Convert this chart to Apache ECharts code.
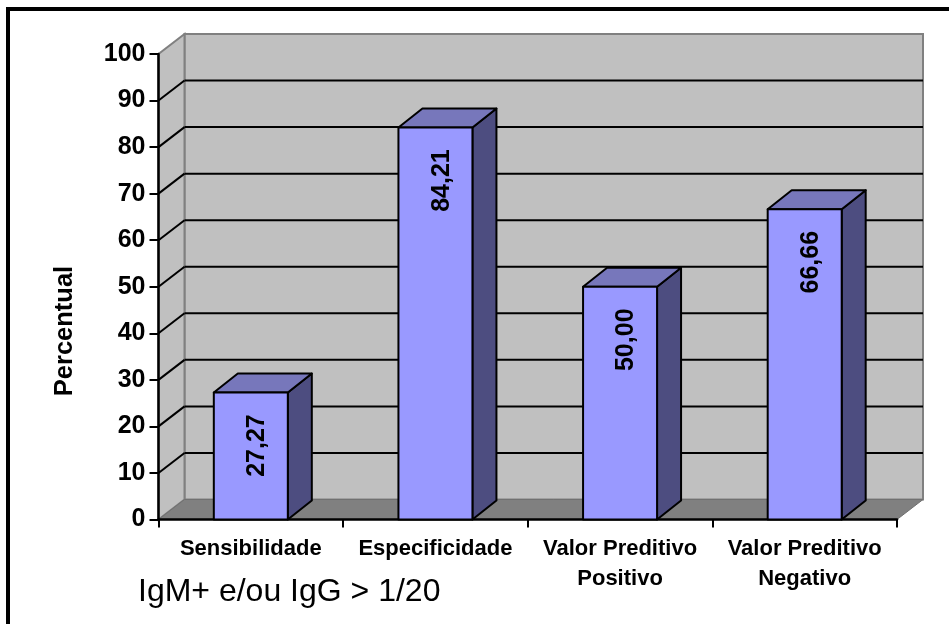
<!DOCTYPE html>
<html><head><meta charset="utf-8">
<style>html,body{margin:0;padding:0;background:#fff}#c{width:949px;height:624px}</style>
<script src="https://cdn.jsdelivr.net/npm/echarts@6/dist/echarts.min.js"></script>
</head><body><div id="c"></div>
<script>
var categories = ['Sensibilidade','Especificidade','Valor Preditivo\nPositivo','Valor Preditivo\nNegativo'];
var values = [27.27,84.21,50.00,66.66];
var valueLabels = ['27,27','84,21','50,00','66,66'];
var yTicks = [0,10,20,30,40,50,60,70,80,90,100];
var yTitle = 'Percentual';
var note = 'IgM+ e/ou IgG > 1/20';

var WALL_DX = 26, WALL_DY = -20, BAR_DX = 24, BAR_DY = -19, BAR_W = 74;
var FONT = '"Liberation Sans", Arial, sans-serif';
var chart = echarts.init(document.getElementById('c'), null, {renderer:'canvas'});

function wallItem(params, api){
  var p00 = api.coord([0,0]), size = api.size([1,1]);
  var xMin = p00[0] - size[0]/2, y0 = p00[1];
  var xMax = xMin + size[0]*categories.length;
  var yTop = api.coord([0,100])[1];
  var kids = [];
  function poly(pts, fill, stroke, lw){
    kids.push({type:'polygon',shape:{points:pts},style:{fill:fill,stroke:stroke||null,lineWidth:lw||0}});
  }
  function line(a,b,stroke,lw){
    kids.push({type:'line',shape:{x1:a[0],y1:a[1],x2:b[0],y2:b[1]},style:{stroke:stroke,lineWidth:lw}});
  }
  var bl=[xMin+WALL_DX,y0+WALL_DY], br=[xMax+WALL_DX,y0+WALL_DY];
  var tl=[xMin+WALL_DX,yTop+WALL_DY], tr=[xMax+WALL_DX,yTop+WALL_DY];
  poly([bl,br,tr,tl],'#C0C0C0','#808080',2);
  poly([[xMin,y0],bl,tl,[xMin,yTop]],'#C0C0C0','#808080',2);
  poly([[xMin,y0],[xMax,y0],br,bl],'#808080','#707070',1);
  yTicks.forEach(function(t){
    if(t===0||t===100) return;
    var y = api.coord([0,t])[1];
    line([xMin,y],[xMin+WALL_DX,y+WALL_DY],'#000',2);
    line([xMin+WALL_DX,y+WALL_DY],[xMax+WALL_DX,y+WALL_DY],'#000',2);
  });
  return {type:'group',children:kids};
}

function barItem(params, api){
  var i = api.value(0), v = api.value(1);
  var c = api.coord([i,v]), b = api.coord([i,0]);
  var l = c[0]-BAR_W/2, r = c[0]+BAR_W/2, t = c[1], y0 = b[1];
  var st = {stroke:'#000',lineWidth:2,lineJoin:'round'};
  function s(fill){return Object.assign({fill:fill},st);}
  return {type:'group',children:[
    {type:'polygon',shape:{points:[[r,y0],[r+BAR_DX,y0+BAR_DY],[r+BAR_DX,t+BAR_DY],[r,t]]},style:s('#4D4D80')},
    {type:'polygon',shape:{points:[[l,t],[r,t],[r+BAR_DX,t+BAR_DY],[l+BAR_DX,t+BAR_DY]]},style:s('#7777BB')},
    {type:'rect',shape:{x:l,y:t,width:BAR_W,height:y0-t},style:s('#9999FF')},
    {type:'text',x:c[0]+6.5,y:t+53,rotation:Math.PI/2,
     style:{text:valueLabels[i],fill:'#000',font:'bold 25px '+FONT,align:'center',verticalAlign:'middle'}}
  ]};
}

chart.setOption({
  animation:false,
  backgroundColor:'#fff',
  grid:{left:158.5,top:54,width:738.5,height:465.5,containLabel:false},
  title:{text:note,left:133,top:571,textStyle:{color:'#000',fontSize:32,fontWeight:'normal',fontFamily:FONT}},
  graphic:[
    {type:'polyline',z:100,shape:{points:[[8,624],[8,9],[949,9]]},style:{fill:'none',stroke:'#000',lineWidth:4}},
    {type:'text',z:100,x:65,y:331,rotation:Math.PI/2,
     style:{text:yTitle,fill:'#000',font:'bold 25.5px '+FONT,align:'center',verticalAlign:'middle'}}
  ],
  xAxis:{type:'category',data:categories,z:3,
    axisLine:{lineStyle:{color:'#000',width:2.5}},
    axisTick:{show:true,alignWithLabel:false,length:8,lineStyle:{color:'#000',width:2}},
    axisLabel:{color:'#000',fontSize:22,fontWeight:'bold',fontFamily:FONT,margin:14,lineHeight:30,interval:0,hideOverlap:false},
    splitLine:{show:false}},
  yAxis:{type:'value',min:0,max:100,interval:10,z:3,
    axisLine:{show:true,lineStyle:{color:'#000',width:2.5}},
    axisTick:{show:true,length:9,lineStyle:{color:'#000',width:2}},
    axisLabel:{color:'#000',fontSize:25,fontWeight:'bold',fontFamily:FONT,margin:13},
    splitLine:{show:false}},
  series:[
    {type:'custom',z:1,silent:true,clip:false,coordinateSystem:'cartesian2d',renderItem:wallItem,data:[[0,0]],encode:{x:0,y:1}},
    {type:'custom',z:5,silent:true,clip:false,coordinateSystem:'cartesian2d',renderItem:barItem,
     data:values.map(function(v,i){return [i,v];}),encode:{x:0,y:1}}
  ]
});
</script></body></html>
